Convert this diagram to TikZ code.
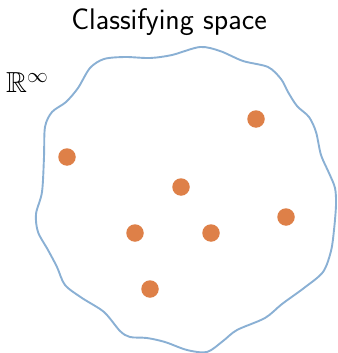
\documentclass[tikz,border=0pt]{standalone}
\usepackage{amssymb}
\definecolor{blobblue}{RGB}{138,176,212}
\definecolor{dotorange}{RGB}{222,128,72}
\begin{document}
\begin{tikzpicture}[x=1pt,y=-1pt,
  pt/.style={circle,fill=dotorange,draw=none,minimum size=17.5pt,inner sep=0pt},
  blob/.style={draw=blobblue,line width=1.9pt,line join=round}]
\useasboundingbox (0,0) rectangle (337,353);
\node[anchor=base,inner sep=0pt,font=\fontsize{29.8}{34}\selectfont\sffamily] (title) at (169,30) {Classifying space};
\node[anchor=base west,inner sep=0pt,font=\fontsize{29}{34}\selectfont] (space) at (6,92) {$\mathbb{R}^\infty$};
\draw[blob] plot[smooth cycle,tension=0.5] coordinates {
(44,157) (45,127) (52,112) (66,102) (78,88) (90,68) (104,59) (125,57)
(150,58) (172,55) (200,47) (220,51) (243,61) (268,67) (281,79) (288,92)
(297,106) (309,117) (316,132) (321,155) (329,173) (335,188) (336,205) (334,230)
(331,251) (323,272) (304,288) (282,304) (265,318) (237,330)
(223,341) (207,352) (187,350) (165,342) (147,338) (130,337) (120,331)
(104,312) (82,298) (65,285) (57,267) (48,250) (38,232) (36,214)
(42,192)};
\node[pt] (p1) at (256,119) {};
\node[pt] (p2) at (67,157) {};
\node[pt] (p3) at (181,187) {};
\node[pt] (p4) at (286,217) {};
\node[pt] (p5) at (135,233) {};
\node[pt] (p6) at (211,233) {};
\node[pt] (p7) at (150,289) {};
\end{tikzpicture}
\end{document}
